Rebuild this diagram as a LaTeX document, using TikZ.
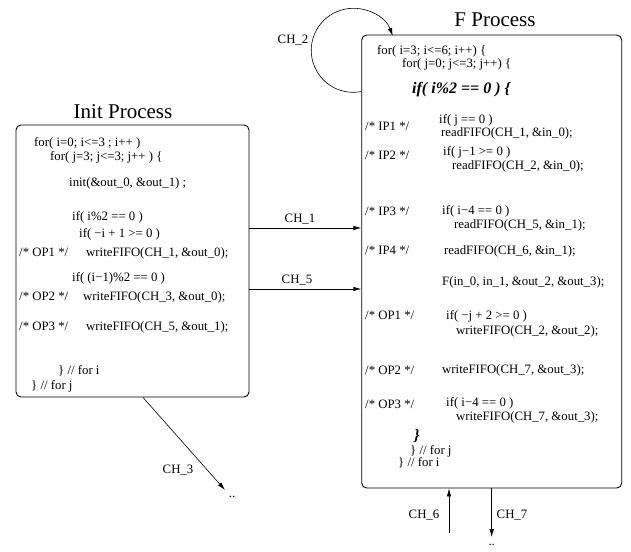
\documentclass[tikz,border=0pt]{standalone}
\usepackage{fontspec}
\setmainfont{Liberation Serif}
\usetikzlibrary{arrows.meta}

\begin{document}
\begin{tikzpicture}[x=1pt,y=-1pt,
  proc/.style={draw, rounded corners=5pt, line width=0.9pt, inner sep=0pt},
  code/.style={anchor=west, inner sep=0pt, text height=8.8pt, text depth=2.8pt, font=\fontsize{12.8}{15}\selectfont},
  big/.style={anchor=west, inner sep=0pt, font=\fontsize{16}{19}\selectfont\bfseries\itshape},
  title/.style={inner sep=0pt, font=\fontsize{21}{25}\selectfont},
  chlabel/.style={inner sep=0pt, font=\fontsize{12.8}{15}\selectfont},
  chan/.style={-{Latex[length=8pt,width=4.5pt]}, line width=0.6pt}]
\useasboundingbox (0,0) rectangle (631,551);

\node[proc, minimum width=233pt, minimum height=272pt] (init) at (132.5,261) {};
\node[proc, minimum width=260pt, minimum height=453pt] (fproc) at (491.7,261.5) {};
\node[title] (initT) at (123,112) {Init Process};
\node[title] (fprocT) at (495,20) {F Process};

\node[code] (i1) at (34,143) {for( i=0; i<=3 ; i++ )};
\node[code] (i2) at (50,157) {for( j=3; j<=3; j++ ) \{};
\node[code] (i3) at (69,183) {init(\&out\_0, \&out\_1) ;};
\node[code] (i4) at (72,217) {if( i\%2 == 0 )};
\node[code] (i5) at (79,234) {if( −i + 1 >= 0 )};
\node[code] (iop1) at (19,253) {/* OP1 */};
\node[code] (i6) at (86,253) {writeFIFO(CH\_1, \&out\_0);};
\node[code] (i7) at (72,278) {if( (i−1)\%2 == 0 )};
\node[code] (iop2) at (19,297) {/* OP2 */};
\node[code] (i8) at (83,297) {writeFIFO(CH\_3, \&out\_0);};
\node[code] (iop3) at (19,327) {/* OP3 */};
\node[code] (i9) at (86,327) {writeFIFO(CH\_5, \&out\_1);};
\node[code] (i10) at (58,371) {\} // for i};
\node[code] (i11) at (31,386) {\} // for j};

\node[code] (f1) at (377,52) {for( i=3; i<=6; i++) \{};
\node[code] (f2) at (402,64) {for( j=0; j<=3; j++) \{};
\node[big] (fif) at (412,90) {if( i\%2 == 0 ) \{};
\node[code] (fip1) at (365,127) {/* IP1 */};
\node[code] (f3) at (439,120) {if( j == 0 )};
\node[code] (f4) at (441,133) {readFIFO(CH\_1, \&in\_0);};
\node[code] (fip2) at (365,156) {/* IP2 */};
\node[code] (f5) at (443,152) {if( j−1 >= 0 )};
\node[code] (f6) at (452,166) {readFIFO(CH\_2, \&in\_0);};
\node[code] (fip3) at (365,212) {/* IP3 */};
\node[code] (f7) at (442,211) {if( i−4 == 0 )};
\node[code] (f8) at (454,225) {readFIFO(CH\_5, \&in\_1);};
\node[code] (fip4) at (365,251) {/* IP4 */};
\node[code] (f9) at (444,251) {readFIFO(CH\_6, \&in\_1);};
\node[code] (f10) at (442,282) {F(in\_0, in\_1, \&out\_2, \&out\_3);};
\node[code] (fop1) at (365,316) {/* OP1 */};
\node[code] (f11) at (446,316) {if( −j + 2 >= 0 )};
\node[code] (f12) at (456,331) {writeFIFO(CH\_2, \&out\_2);};
\node[code] (fop2) at (365,371) {/* OP2 */};
\node[code] (f13) at (442,370) {writeFIFO(CH\_7, \&out\_3);};
\node[code] (fop3) at (365,405) {/* OP3 */};
\node[code] (f14) at (446,403) {if( i−4 == 0 )};
\node[code] (f15) at (456,417) {writeFIFO(CH\_7, \&out\_3);};
\node[big] (fbr) at (414,436) {\}};
\node[code] (f16) at (410,451) {\} // for j};
\node[code] (f17) at (398,463) {\} // for i};

\coordinate (ch1) at (300,228);
\coordinate (ch5) at (300,289);
\coordinate (ch3end) at (225,490);
\coordinate (ch6) at (449,533);
\coordinate (ch7end) at (491.7,537);

\draw[chan] (init.east |- ch1) -- (fproc.west |- ch1);
\draw[chan] (init.east |- ch5) -- (fproc.west |- ch5);
\draw[chan] ([xshift=10.5pt]init.south) -- (ch3end);
\draw[chan] ([yshift=-57pt]fproc.north west) arc[start angle=-79, delta angle=-261, radius=42pt];
\draw[chan] (ch6) -- (ch6 |- fproc.south);
\draw[chan] (fproc.south) -- (ch7end);

\node[chlabel] (lch1) at (300,219) {CH\_1};
\node[chlabel] (lch5) at (297,280) {CH\_5};
\node[chlabel] (lch2) at (293,40) {CH\_2};
\node[chlabel] (lch3) at (178,470) {CH\_3};
\node[chlabel] (lch6) at (424,515) {CH\_6};
\node[chlabel] (lch7) at (512,515) {CH\_7};
\node[chlabel] (dots3) at (232,497) {..};
\node[chlabel] (dots7) at (491.7,545) {..};
\end{tikzpicture}
\end{document}
